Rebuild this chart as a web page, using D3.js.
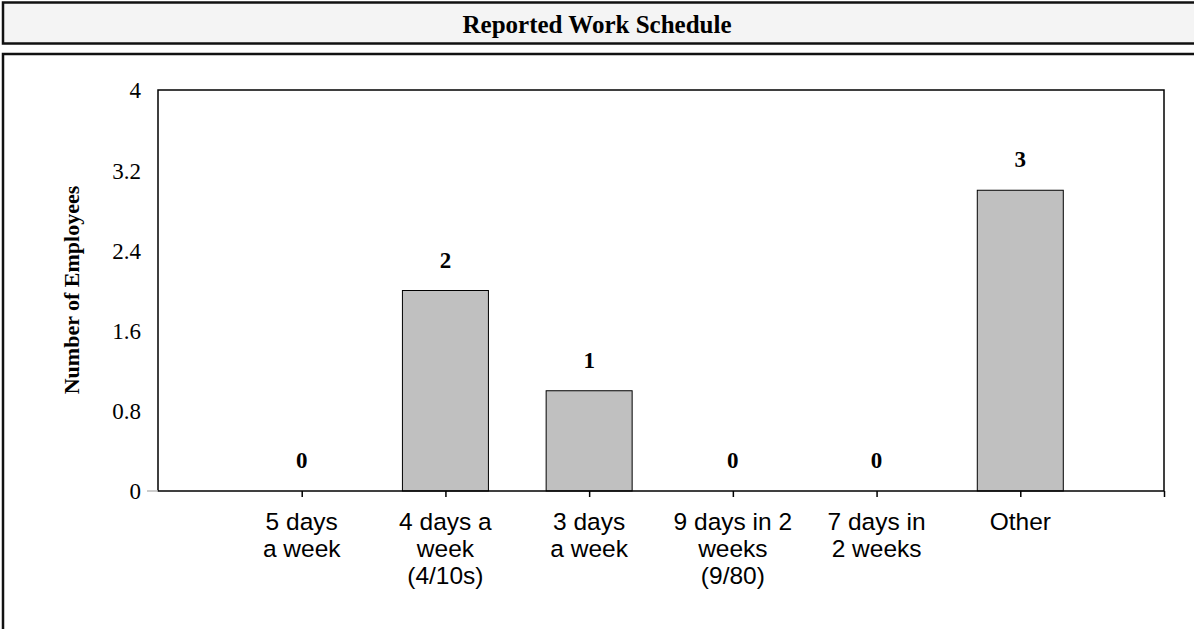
<!DOCTYPE html>
<html><head><meta charset="utf-8">
<script src="https://cdn.jsdelivr.net/npm/d3@7"></script>
<style>html,body{margin:0;padding:0;background:#fff;overflow:hidden}</style>
</head><body>
<svg id="c" width="1194" height="629"></svg>
<script>
const title = "Reported Work Schedule";
const yTitle = "Number of Employees";
const categories = [["5 days","a week"],["4 days a","week","(4/10s)"],["3 days","a week"],["9 days in 2","weeks","(9/80)"],["7 days in","2 weeks"],["Other"]];
const values = [0, 2, 1, 0, 0, 3];
const yTicks = [0, 0.8, 1.6, 2.4, 3.2, 4];

const serif = "Liberation Serif, Times New Roman, serif";
const sans = "Liberation Sans, Arial, sans-serif";
const svg = d3.select("#c");
// title box
svg.append("rect").attr("x",3).attr("y",2.5).attr("width",1200).attr("height",41)
  .attr("fill","#f4f4f4").attr("stroke","#111").attr("stroke-width",2.5);
svg.append("text").attr("x",597).attr("y",33).attr("text-anchor","middle")
  .attr("font-family",serif).attr("font-weight","bold")
  .attr("font-size",25).text(title);
// chart box
svg.append("rect").attr("x",3).attr("y",54).attr("width",1200).attr("height",600)
  .attr("fill","#fff").attr("stroke","#111").attr("stroke-width",2.5);

const L=158,R=1164,T=90,B=491;
const x = d3.scaleLinear().domain([-1,6]).range([L,R]);
const y = d3.scaleLinear().domain([0,4]).range([B,T]);
const bw = 86;

// bars
svg.selectAll("rect.bar").data(values).join("rect").attr("class","bar")
  .attr("x",(d,i)=>x(i)-bw/2).attr("width",bw)
  .attr("y",d=>y(d)).attr("height",d=>B-y(d))
  .attr("fill","#c0c0c0").attr("stroke","#000").attr("stroke-width",1)
  .attr("display",d=>d>0?null:"none");

// frame
svg.append("rect").attr("x",L).attr("y",T).attr("width",R-L).attr("height",B-T)
  .attr("fill","none").attr("stroke","#000").attr("stroke-width",1.5);

// y axis
const ya = svg.append("g").attr("transform",`translate(${L},0)`)
  .call(d3.axisLeft(y).tickValues(yTicks).tickFormat(d3.format("")).tickSize(0).tickPadding(17));
ya.select(".domain").remove();
ya.selectAll("text").attr("font-family",serif).attr("font-size",23).attr("fill","#000").attr("dy","0.34em");
svg.append("line").attr("x1",147).attr("x2",L).attr("y1",B).attr("y2",B).attr("stroke","#bbb").attr("stroke-width",1.5);

// x axis
const xa = svg.append("g").attr("transform",`translate(0,${B})`)
  .call(d3.axisBottom(x).tickValues([0,1,2,3,4,5,6]).tickSize(6).tickFormat(""));
xa.select(".domain").remove();
xa.selectAll("line").attr("stroke","#000").attr("stroke-width",1.5);

// x labels
categories.forEach((lines,i)=>{
  const t = svg.append("text").attr("text-anchor","middle")
    .attr("font-family",sans).attr("font-size",24.5).attr("fill","#000");
  lines.forEach((ln,j)=>t.append("tspan").attr("x",x(i)).attr("y",530+j*27).text(ln));
});

// value labels
svg.selectAll("text.val").data(values).join("text").attr("class","val")
  .attr("x",(d,i)=>x(i)).attr("y",d=>y(d)-23).attr("text-anchor","middle")
  .attr("font-family",serif).attr("font-weight","bold")
  .attr("font-size",23).text(d=>d);

// y title
svg.append("text").attr("transform","translate(79,290) rotate(-90)").attr("text-anchor","middle")
  .attr("font-family",serif).attr("font-weight","bold")
  .attr("font-size",22).text(yTitle);
</script>
</body></html>
